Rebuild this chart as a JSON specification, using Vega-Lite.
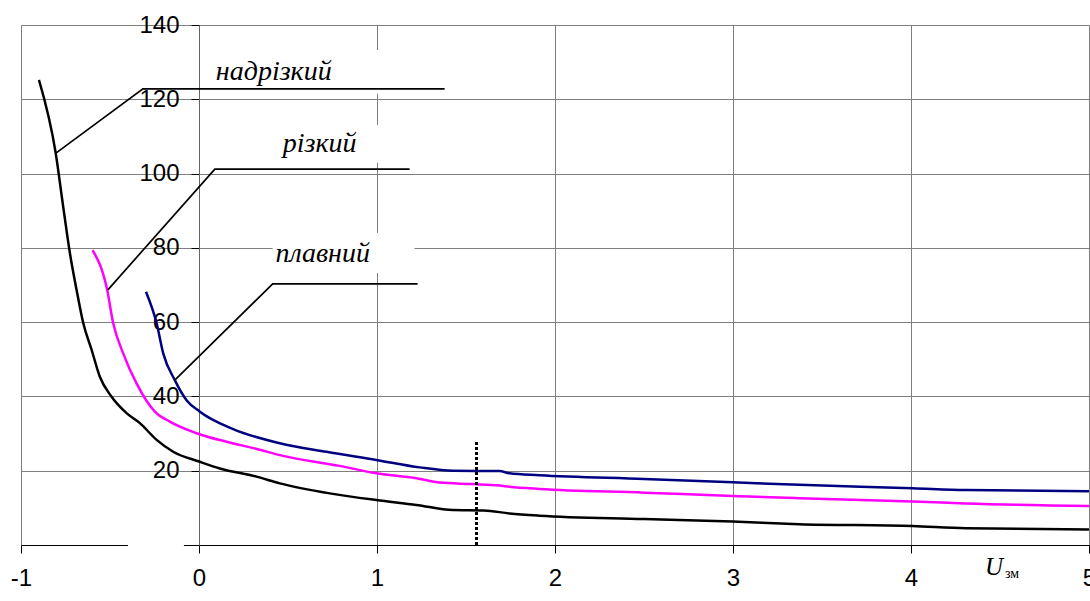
{
  "$schema": "https://vega.github.io/schema/vega-lite/v6.json",
  "width": 1068,
  "height": 520,
  "autosize": {"type": "none"},
  "padding": {"left": 21, "top": 25, "right": 1, "bottom": 56},
  "background": "white",
  "config": {"view": {"stroke": null}},
  "datasets": {
    "curves": [
      {"series": "надрізкий", "x": -0.899, "y": 125.2},
      {"series": "надрізкий", "x": -0.805, "y": 105.5},
      {"series": "надрізкий", "x": -0.763, "y": 91.1},
      {"series": "надрізкий", "x": -0.725, "y": 78.5},
      {"series": "надрізкий", "x": -0.685, "y": 68.0},
      {"series": "надрізкий", "x": -0.650, "y": 59.7},
      {"series": "надрізкий", "x": -0.603, "y": 52.5},
      {"series": "надрізкий", "x": -0.557, "y": 45.3},
      {"series": "надрізкий", "x": -0.491, "y": 39.9},
      {"series": "надрізкий", "x": -0.407, "y": 35.5},
      {"series": "надрізкий", "x": -0.332, "y": 32.8},
      {"series": "надрізкий", "x": -0.238, "y": 28.3},
      {"series": "надрізкий", "x": -0.145, "y": 25.1},
      {"series": "надрізкий", "x": 0.005, "y": 22.4},
      {"series": "надрізкий", "x": 0.117, "y": 20.6},
      {"series": "надрізкий", "x": 0.323, "y": 18.4},
      {"series": "надрізкий", "x": 0.454, "y": 16.6},
      {"series": "надрізкий", "x": 0.734, "y": 13.9},
      {"series": "надрізкий", "x": 0.996, "y": 12.1},
      {"series": "надрізкий", "x": 1.221, "y": 10.8},
      {"series": "надрізкий", "x": 1.426, "y": 9.4},
      {"series": "надрізкий", "x": 1.60, "y": 9.3},
      {"series": "надрізкий", "x": 1.744, "y": 8.5},
      {"series": "надрізкий", "x": 1.913, "y": 7.9},
      {"series": "надрізкий", "x": 2.5, "y": 7.0},
      {"series": "надрізкий", "x": 2.998, "y": 6.3},
      {"series": "надрізкий", "x": 3.372, "y": 5.6},
      {"series": "надрізкий", "x": 4.008, "y": 5.1},
      {"series": "надрізкий", "x": 4.308, "y": 4.5},
      {"series": "надрізкий", "x": 5.0, "y": 4.2},
      {"series": "різкий", "x": -0.598, "y": 79.4},
      {"series": "різкий", "x": -0.516, "y": 68.7},
      {"series": "різкий", "x": -0.482, "y": 59.7},
      {"series": "різкий", "x": -0.426, "y": 51.6},
      {"series": "різкий", "x": -0.351, "y": 43.5},
      {"series": "різкий", "x": -0.248, "y": 35.9},
      {"series": "різкий", "x": -0.164, "y": 33.2},
      {"series": "різкий", "x": -0.014, "y": 30.1},
      {"series": "різкий", "x": 0.154, "y": 27.8},
      {"series": "різкий", "x": 0.330, "y": 25.8},
      {"series": "різкий", "x": 0.454, "y": 24.2},
      {"series": "різкий", "x": 0.790, "y": 21.3},
      {"series": "різкий", "x": 0.996, "y": 19.3},
      {"series": "різкий", "x": 1.221, "y": 18.0},
      {"series": "різкий", "x": 1.352, "y": 16.8},
      {"series": "різкий", "x": 1.539, "y": 16.4},
      {"series": "різкий", "x": 1.688, "y": 16.0},
      {"series": "різкий", "x": 1.744, "y": 15.7},
      {"series": "різкий", "x": 1.913, "y": 15.1},
      {"series": "різкий", "x": 2.5, "y": 14.1},
      {"series": "різкий", "x": 2.998, "y": 13.2},
      {"series": "різкий", "x": 3.372, "y": 12.6},
      {"series": "різкий", "x": 4.008, "y": 11.7},
      {"series": "різкий", "x": 4.308, "y": 11.2},
      {"series": "різкий", "x": 5.0, "y": 10.5},
      {"series": "плавний", "x": -0.298, "y": 68.2},
      {"series": "плавний", "x": -0.238, "y": 59.7},
      {"series": "плавний", "x": -0.201, "y": 51.6},
      {"series": "плавний", "x": -0.136, "y": 44.4},
      {"series": "плавний", "x": -0.070, "y": 39.0},
      {"series": "плавний", "x": 0.005, "y": 35.9},
      {"series": "плавний", "x": 0.192, "y": 31.2},
      {"series": "плавний", "x": 0.454, "y": 27.4},
      {"series": "плавний", "x": 0.716, "y": 25.1},
      {"series": "плавний", "x": 0.996, "y": 22.9},
      {"series": "плавний", "x": 1.240, "y": 20.9},
      {"series": "плавний", "x": 1.426, "y": 20.0},
      {"series": "плавний", "x": 1.688, "y": 19.9},
      {"series": "плавний", "x": 1.744, "y": 19.3},
      {"series": "плавний", "x": 1.913, "y": 18.8},
      {"series": "плавний", "x": 2.5, "y": 17.8},
      {"series": "плавний", "x": 2.998, "y": 16.9},
      {"series": "плавний", "x": 3.372, "y": 16.2},
      {"series": "плавний", "x": 4.008, "y": 15.3},
      {"series": "плавний", "x": 4.308, "y": 14.8},
      {"series": "плавний", "x": 5.0, "y": 14.5}
    ],
    "leaders": [
      {"id": "a", "x": -0.804, "y": 105.5},
      {"id": "a", "x": -0.315, "y": 122.8},
      {"id": "a", "x": 1.380, "y": 122.8},
      {"id": "b", "x": -0.512, "y": 68.7},
      {"id": "b", "x": 0.089, "y": 101.2},
      {"id": "b", "x": 1.183, "y": 101.2},
      {"id": "c", "x": -0.136, "y": 44.4},
      {"id": "c", "x": 0.414, "y": 70.3},
      {"id": "c", "x": 1.228, "y": 70.3}
    ],
    "boxes": [
      {"x": 0.033, "x2": 1.352, "y": 121.5, "y2": 133.3},
      {"x": 0.398, "x2": 1.127, "y": 102.9, "y2": 113.1},
      {"x": 0.414, "x2": 1.211, "y": 73.2, "y2": 84.0},
      {"x": -0.399, "x2": -0.085, "y": -1.5, "y2": 1.5}
    ],
    "labels": [
      {"label": "надрізкий", "x": 0.420, "y": 125.2},
      {"label": "різкий", "x": 0.678, "y": 105.8},
      {"label": "плавний", "x": 0.695, "y": 76.2}
    ],
    "marker": [{"x": 1.559, "y": 0, "y2": 28.1}],
    "axisU": [{"label": "U", "x": 4.416, "y": -8.1}],
    "axisSub": [{"label": "зм", "x": 4.528, "y": -8.8}]
  },
  "encoding": {
    "x": {
      "field": "x", "type": "quantitative",
      "scale": {"domain": [-1, 5], "nice": false, "zero": false},
      "axis": {
        "title": null, "values": [-1, 0, 1, 2, 3, 4, 5],
        "labelExpr": "'' + datum.value",
        "grid": true, "gridColor": "#7f7f7f", "gridWidth": 1,
        "domainColor": "#000000", "domainWidth": 1,
        "tickColor": "#000000", "tickSize": 8, "tickWidth": 1,
        "labelFont": "Liberation Sans", "labelFontSize": 24, "labelColor": "#000000",
        "labelPadding": 13, "labelFlush": false, "labelOverlap": false
      }
    },
    "y": {
      "field": "y", "type": "quantitative",
      "scale": {"domain": [0, 140], "nice": false, "zero": false},
      "axis": {
        "title": null, "values": [20, 40, 60, 80, 100, 120, 140],
        "offset": -178,
        "grid": true, "gridColor": "#7f7f7f", "gridWidth": 1,
        "domainColor": "#666666", "domainWidth": 1,
        "tickColor": "#000000", "tickSize": 8, "tickWidth": 1,
        "labelFont": "Liberation Sans", "labelFontSize": 24, "labelColor": "#000000",
        "labelPadding": 12, "labelFlush": false, "labelOverlap": false
      }
    }
  },
  "layer": [
    {
      "data": {"name": "boxes"},
      "mark": {"type": "rect", "color": "white", "strokeWidth": 0},
      "encoding": {"x2": {"field": "x2"}, "y2": {"field": "y2"}}
    },
    {
      "data": {"name": "curves"},
      "mark": {"type": "line", "strokeWidth": 2.5, "interpolate": "monotone"},
      "encoding": {
        "color": {
          "field": "series", "type": "nominal",
          "scale": {"domain": ["надрізкий", "різкий", "плавний"], "range": ["#000000", "#FF00FF", "#000080"]},
          "legend": null
        }
      }
    },
    {
      "data": {"name": "leaders"},
      "mark": {"type": "line", "color": "#000000", "strokeWidth": 1.7},
      "encoding": {"detail": {"field": "id"}}
    },
    {
      "data": {"name": "marker"},
      "mark": {"type": "rule", "color": "#000000", "strokeWidth": 3, "strokeDash": [3, 2]},
      "encoding": {"y2": {"field": "y2"}}
    },
    {
      "data": {"name": "labels"},
      "mark": {"type": "text", "font": "Liberation Serif", "fontStyle": "italic", "fontSize": 28, "align": "center", "baseline": "alphabetic", "color": "#000000"},
      "encoding": {"text": {"field": "label"}}
    },
    {
      "data": {"name": "axisU"},
      "mark": {"type": "text", "font": "Liberation Serif", "fontStyle": "italic", "fontSize": 25, "align": "left", "baseline": "alphabetic", "color": "#000000"},
      "encoding": {"text": {"field": "label"}}
    },
    {
      "data": {"name": "axisSub"},
      "mark": {"type": "text", "font": "Liberation Serif", "fontSize": 14, "align": "left", "baseline": "alphabetic", "color": "#000000"},
      "encoding": {"text": {"field": "label"}}
    }
  ]
}
